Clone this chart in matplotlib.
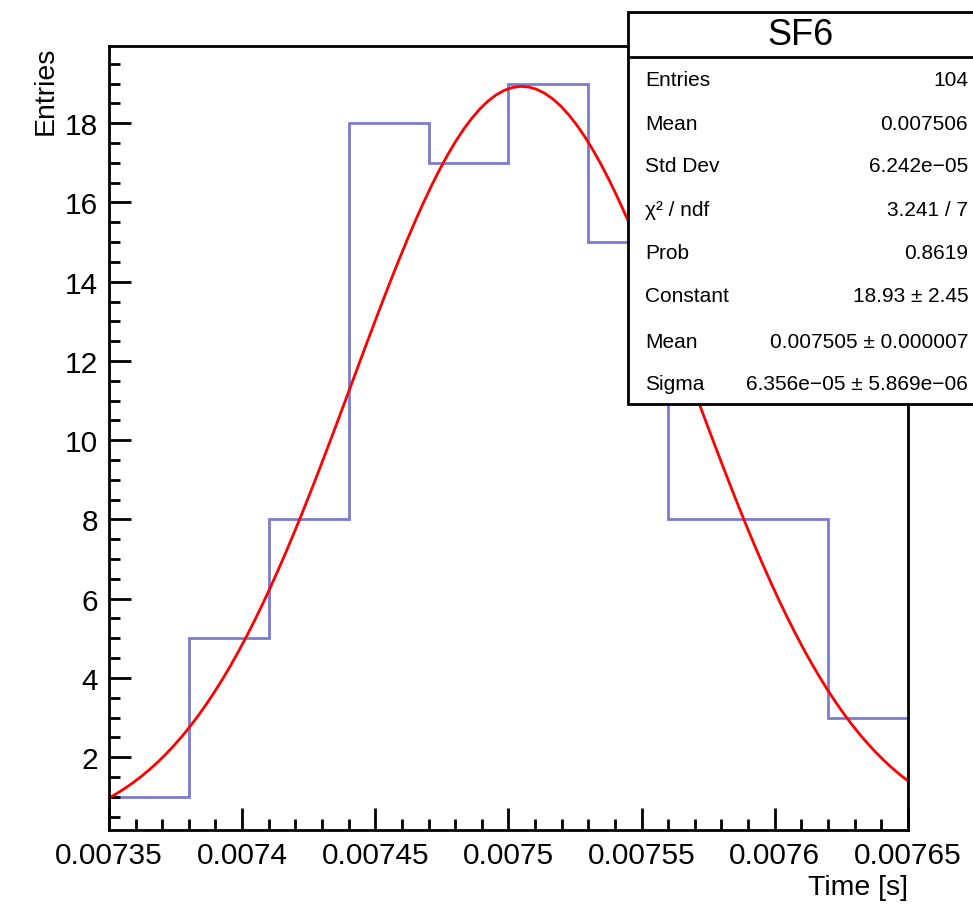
import numpy as np
import matplotlib
matplotlib.use("Agg")
import matplotlib.pyplot as plt
from matplotlib.ticker import MultipleLocator, FuncFormatter

plt.rcParams['font.family'] = ['Liberation Sans', 'DejaVu Sans']

# histogram (bin edges in seconds, counts per bin)
bin_edges = [0.00735, 0.00738, 0.00741, 0.00744, 0.00747, 0.00750,
             0.00753, 0.00756, 0.00759, 0.00762, 0.00765]
counts = [1, 5, 8, 18, 17, 19, 15, 8, 8, 3]

# gaussian fit parameters
fit_const = 18.93
fit_mean = 0.007505
fit_sigma = 6.356e-05

stats_labels = ["Entries", "Mean", "Std Dev", "\u03c7\u00b2 / ndf", "Prob",
                "Constant", "Mean", "Sigma"]
stats_values = ["104", "0.007506", "6.242e\u221205", "3.241 / 7", "0.8619",
                "18.93 \u00b1 2.45", "0.007505 \u00b1 0.000007",
                "6.356e\u221205 \u00b1 5.869e\u221206"]

fig = plt.figure(figsize=(9.73, 9.12), dpi=100)
ax = fig.add_axes([0.112, 0.089, 0.821, 0.8595])

ax.stairs(counts, bin_edges, color="#7b7bd3", lw=2)
xf = np.linspace(bin_edges[0], bin_edges[-1], 100)
ax.plot(xf, fit_const * np.exp(-0.5 * ((xf - fit_mean) / fit_sigma) ** 2),
        color="#ff0000", lw=2)

ax.set_xlim(bin_edges[0], bin_edges[-1])
ax.set_ylim(0.165, 19.95)

ax.xaxis.set_major_locator(MultipleLocator(0.00005))
ax.xaxis.set_minor_locator(MultipleLocator(0.00001))
ax.yaxis.set_major_locator(MultipleLocator(2))
ax.yaxis.set_minor_locator(MultipleLocator(0.5))
ax.xaxis.set_major_formatter(FuncFormatter(lambda v, p: ("%.5f" % v).rstrip("0")))
ax.yaxis.set_major_formatter(FuncFormatter(lambda v, p: "%d" % round(v)))

ax.tick_params(which="both", direction="in", width=2, labelsize=21.5, top=False, right=False)
ax.tick_params(which="major", length=16, pad=8)
ax.tick_params(which="minor", length=8)
for s in ax.spines.values():
    s.set_linewidth(2)

ax.set_xlabel("Time [s]", fontsize=20.5, loc="right", labelpad=4)
ax.set_ylabel("Entries", fontsize=20.5, loc="top", labelpad=4)

# stats box
bx0, bx1 = 0.6454, 1.02
by0, by1, bsep = 0.556, 0.9857, 0.936
fig.patches.append(plt.Rectangle((bx0, by0), bx1 - bx0, by1 - by0, transform=fig.transFigure,
                                 facecolor="white", edgecolor="black", lw=2, zorder=5))
fig.lines.append(plt.Line2D([bx0, bx1], [bsep, bsep], transform=fig.transFigure,
                            color="black", lw=2, zorder=6))
fig.text((bx0 + 1.0) / 2, (by1 + bsep) / 2, "SF6", ha="center", va="center",
         fontsize=26, zorder=7)
row_y = [81, 124, 167, 210, 254, 297, 342, 385]
for lab, val, py in zip(stats_labels, stats_values, row_y):
    y = 1 - py / 912
    fig.text(0.663, y, lab, ha="left", va="center", fontsize=15, zorder=7)
    fig.text(0.995, y, val, ha="right", va="center", fontsize=15, zorder=7)

fig.savefig("out.png", dpi=100)
